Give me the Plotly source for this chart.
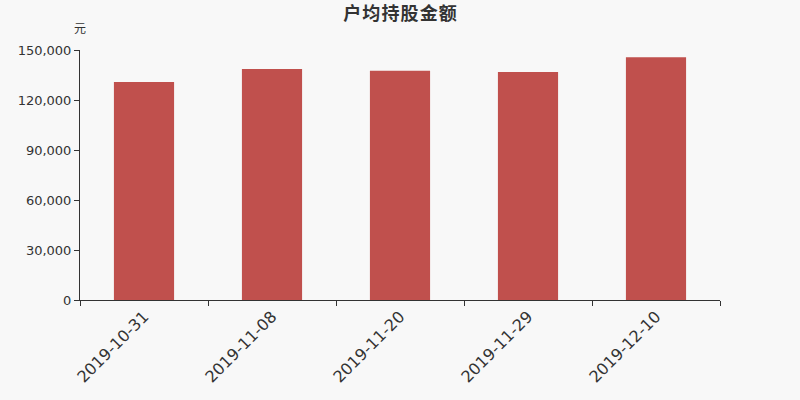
import plotly.graph_objects as go

# datos
fechas = ["2019-10-31", "2019-11-08", "2019-11-20", "2019-11-29", "2019-12-10"]
montos = [130800, 138600, 137600, 136800, 145600]
ticks_y = [0, 30000, 60000, 90000, 120000, 150000]
titulo = "户均持股金额"

COLOR_BARRA = "#c0504d"
FUENTE = "Noto Sans CJK SC, DejaVu Sans, sans-serif"

fig = go.Figure()
fig.add_trace(go.Bar(x=fechas, y=montos, marker_color=COLOR_BARRA, marker_line_width=0))

fig.update_layout(
    width=800, height=400,
    paper_bgcolor="#f8f8f8", plot_bgcolor="#f8f8f8",
    margin=dict(l=80, r=80, t=50, b=100),
    bargap=0.53,
    showlegend=False,
    font=dict(family=FUENTE, color="#333"),
    # espacios finos entre caracteres para imitar el espaciado del original
    title=dict(text="<b>" + "\u200a".join(titulo) + "</b>", x=0.5, y=0.967,
               xanchor="center", yanchor="middle", font=dict(size=18, color="#333")),
)
fig.update_xaxes(
    type="category", tickson="boundaries", ticks="outside", ticklen=5, tickcolor="#333",
    showline=True, linecolor="#333", linewidth=1, showgrid=False,
    tickangle=-45, tickfont=dict(size=16, family="DejaVu Sans, sans-serif", color="#333"),
)
fig.update_yaxes(
    range=[0, 150000], tickvals=ticks_y, tickformat=",d", ticks="outside", ticklen=5,
    tickcolor="#333", showline=True, linecolor="#333", linewidth=1, showgrid=False,
    zeroline=False, tickfont=dict(size=13, family="DejaVu Sans, sans-serif", color="#333"),
)
fig.add_annotation(text="元", xref="paper", yref="paper", x=0, y=1.09, xanchor="center",
                   yanchor="middle", showarrow=False, font=dict(size=12, color="#333"))

# quitar el margen del body para que el grafico ocupe toda la ventana
fig.write_html("out.html", config={"displayModeBar": False},
               post_script="document.body.style.margin='0';")
